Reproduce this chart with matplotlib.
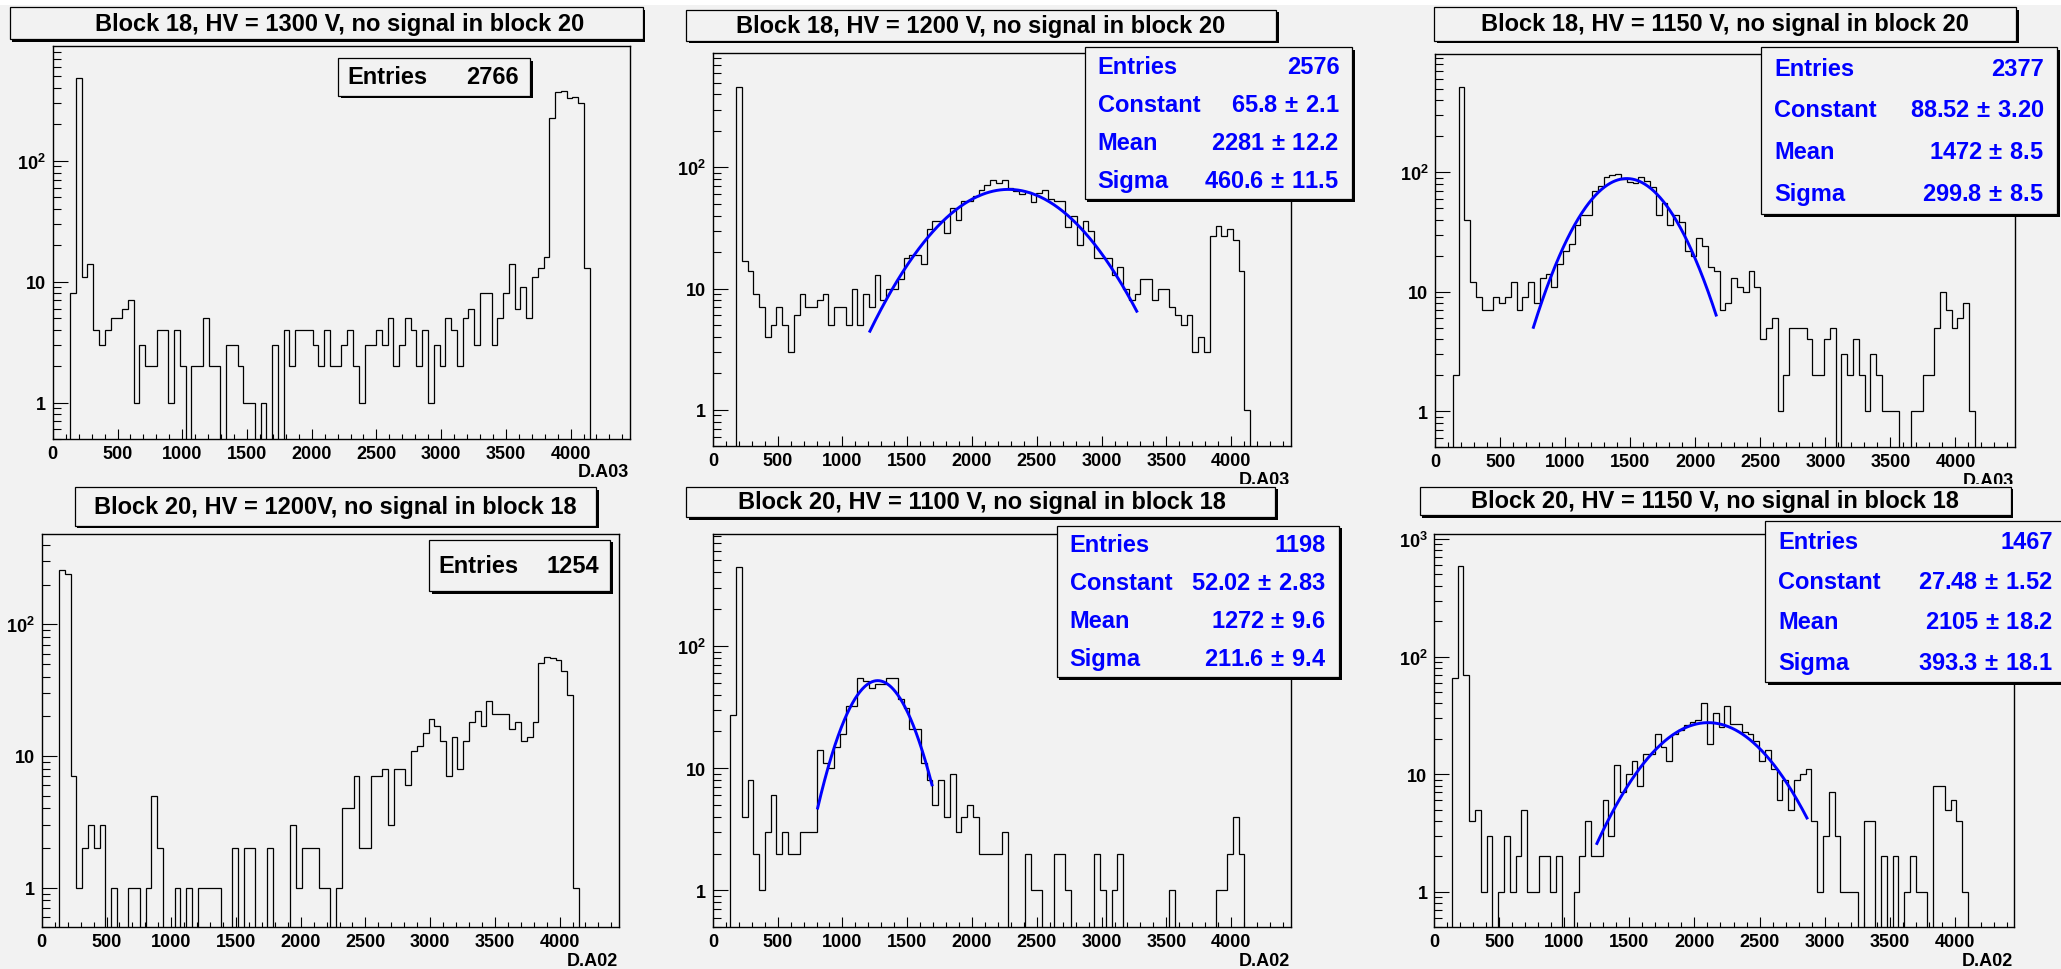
import numpy as np
import matplotlib
matplotlib.use("Agg")
import matplotlib.pyplot as plt
from matplotlib.patches import Rectangle
from matplotlib.transforms import Affine2D, Bbox, TransformedBbox
from matplotlib.ticker import FixedLocator, FuncFormatter, LogLocator, MultipleLocator, NullFormatter

plt.rcParams['font.family'] = ['Liberation Sans', 'DejaVu Sans']
plt.rcParams['font.weight'] = 'bold'
plt.rcParams['mathtext.fontset'] = 'custom'
plt.rcParams['mathtext.rm'] = 'Liberation Sans'
plt.rcParams['mathtext.it'] = 'Liberation Sans'
plt.rcParams['mathtext.bf'] = 'Liberation Sans:bold'

W, H = 2061, 970
BG = '#f2f2f2'
BLUE = '#0000ff'

# binning of all histograms (100 bins)
x_lo, x_hi, n_bins = 0, 4460, 100

titles = ["Block 18, HV = 1300 V, no signal in block 20",
          "Block 18, HV = 1200 V, no signal in block 20",
          "Block 18, HV = 1150 V, no signal in block 20",
          "Block 20, HV = 1200V, no signal in block 18",
          "Block 20, HV = 1100 V, no signal in block 18",
          "Block 20, HV = 1150 V, no signal in block 18"]
xvars = ["D.A03", "D.A03", "D.A03", "D.A02", "D.A02", "D.A02"]
entries = [2766, 2576, 2377, 1254, 1198, 1467]
y_max = [895, 873, 975, 485, 823, 1104]

# bin contents
b18_1300 = [0, 0, 0, 8, 480, 11, 14, 4, 3, 4,
            5, 5, 6, 7, 1, 3, 2, 2, 4, 4,
            1, 4, 2, 0, 2, 2, 5, 2, 2, 0,
            3, 3, 2, 1, 1, 0, 1, 0, 3, 0,
            4, 2, 4, 4, 4, 3, 2, 4, 2, 2,
            3, 4, 2, 1, 3, 3, 4, 3, 5, 2,
            3, 5, 4, 2, 4, 1, 3, 2, 5, 4,
            2, 5, 6, 3, 8, 8, 3, 5, 8, 14,
            6, 9, 5, 11, 13, 16, 228, 372, 375, 328,
            340, 303, 13, 0, 0, 0, 0, 0, 0, 0]
b18_1200 = [0, 0, 0, 0, 463, 17, 14, 9, 7, 4,
            5, 7, 5, 3, 6, 9, 7, 7, 8, 9,
            5, 7, 7, 5, 10, 5, 9, 7, 13, 8,
            10, 10, 12, 18, 19, 19, 16, 31, 36, 36,
            29, 46, 37, 53, 53, 58, 65, 72, 78, 75,
            78, 68, 64, 60, 63, 52, 61, 65, 55, 53,
            53, 32, 40, 23, 36, 30, 18, 18, 18, 13,
            15, 10, 8, 9, 12, 12, 8, 10, 10, 7,
            6, 5, 6, 3, 4, 3, 27, 33, 27, 31,
            25, 14, 1, 0, 0, 0, 0, 0, 0, 0]
b18_1150 = [0, 0, 0, 2, 520, 40, 12, 9, 7, 7,
            9, 8, 9, 12, 7, 9, 12, 8, 13, 14,
            11, 17, 22, 25, 36, 44, 44, 70, 77, 92,
            94, 96, 88, 83, 81, 92, 85, 75, 44, 55,
            36, 44, 38, 22, 20, 28, 24, 16, 15, 7,
            8, 13, 11, 10, 15, 11, 4, 5, 6, 1,
            2, 5, 5, 5, 4, 2, 2, 4, 5, 0,
            3, 2, 4, 2, 1, 3, 2, 1, 1, 1,
            0, 0, 1, 1, 2, 2, 5, 10, 7, 5,
            6, 8, 1, 0, 0, 0, 0, 0, 0, 0]
b20_1200 = [0, 0, 0, 258, 240, 7, 1, 2, 3, 2,
            3, 0, 1, 0, 0, 1, 1, 0, 1, 5,
            2, 0, 0, 1, 0, 1, 0, 1, 1, 1,
            1, 0, 0, 2, 0, 2, 2, 0, 0, 2,
            0, 0, 0, 3, 1, 2, 2, 2, 1, 1,
            0, 1, 4, 4, 7, 2, 2, 7, 7, 8,
            3, 8, 8, 6, 11, 12, 15, 19, 17, 13,
            7, 14, 8, 13, 18, 22, 17, 26, 21, 21,
            21, 16, 18, 13, 14, 18, 51, 56, 55, 54,
            44, 29, 1, 0, 0, 0, 0, 0, 0, 0]
b20_1100 = [0, 0, 0, 27, 444, 4, 8, 2, 1, 3,
            6, 2, 3, 2, 2, 3, 3, 3, 14, 11,
            10, 15, 19, 32, 32, 55, 52, 45, 49, 49,
            55, 55, 37, 31, 21, 21, 11, 8, 5, 8,
            4, 9, 3, 4, 5, 4, 2, 2, 2, 2,
            3, 0, 0, 0, 2, 1, 1, 0, 0, 2,
            2, 1, 0, 0, 0, 0, 2, 1, 0, 1,
            2, 0, 0, 0, 0, 0, 0, 0, 0, 1,
            0, 0, 0, 0, 0, 0, 0, 1, 1, 2,
            4, 2, 0, 0, 0, 0, 0, 0, 0, 0]
b20_1150 = [0, 0, 0, 66, 593, 70, 4, 5, 1, 3,
            0, 1, 3, 1, 2, 5, 1, 1, 2, 2,
            1, 2, 0, 0, 1, 2, 4, 2, 2, 6,
            3, 12, 7, 10, 13, 8, 15, 15, 22, 17,
            13, 22, 24, 26, 28, 29, 40, 18, 33, 25,
            38, 27, 27, 23, 22, 19, 13, 16, 11, 6,
            9, 5, 9, 10, 11, 4, 1, 3, 7, 3,
            1, 1, 1, 0, 4, 4, 0, 2, 0, 2,
            0, 1, 2, 1, 1, 0, 8, 8, 5, 6,
            4, 1, 0, 0, 0, 0, 0, 0, 0, 0]
counts = [b18_1300, b18_1200, b18_1150, b20_1200, b20_1100, b20_1150]

# gaussian fits (panels 1, 2, 4, 5)
fit_panels = [1, 2, 4, 5]
fit_const = [65.8, 88.52, 52.02, 27.48]
fit_const_err = [2.1, 3.20, 2.83, 1.52]
fit_const_dec = [1, 2, 2, 2]
fit_mean = [2281, 1472, 1272, 2105]
fit_mean_err = [12.2, 8.5, 9.6, 18.2]
fit_sigma = [460.6, 299.8, 211.6, 393.3]
fit_sigma_err = [11.5, 8.5, 9.4, 18.1]
fit_lo = [1207, 751, 806, 1245]
fit_hi = [3277, 2163, 1694, 2870]

edges = np.linspace(x_lo, x_hi, n_bins + 1)

fig = plt.figure(figsize=(W / 100, H / 100), dpi=100, facecolor=BG)
# pixel coordinates, y measured from the top
pix = Affine2D().scale(1 / W, -1 / H).translate(0, 1) + fig.transFigure

# thin white canvas strip along the top edge
fig.add_artist(Rectangle((0, 0), W, 6, transform=pix, facecolor='white',
                         edgecolor='none', zorder=0.5))

# layout in pixels
frames = [(52.8, 46.7, 630.1, 440), (712.9, 54.3, 1290.7, 447.3), (1435.3, 55, 2015.3, 448.3),
          (41.8, 535, 619.1, 928.3), (712.9, 535, 1290.7, 928.3), (1434.4, 535, 2014.4, 928.3)]
title_boxes = [(9.7, 8.3, 642.5, 40), (686, 10.7, 1276, 41.7), (1434.4, 8.3, 2016, 41.7),
               (74.8, 488.3, 596.3, 526.7), (686, 487.7, 1275.3, 518.3), (1419.9, 487.7, 2010.9, 516)]
title_cx = [340, 981, 1725, 335.5, 982, 1715]
stat_boxes = {0: (338, 59.3, 530, 96.7), 3: (429, 540.7, 610.3, 592.3),
              1: (1084.7, 48.3, 1352.3, 200), 2: (1761, 48.3, 2057, 215),
              4: (1056.6, 526.7, 1339, 678.3), 5: (1765, 522.3, 2066, 683.3)}


def pave(x0, y0, x1, y1, shadow=2.5):
    fig.add_artist(Rectangle((x0 + shadow, y0 + shadow), x1 - x0, y1 - y0, transform=pix,
                             facecolor='black', edgecolor='none', zorder=1.0))
    fig.add_artist(Rectangle((x0, y0), x1 - x0, y1 - y0, transform=pix,
                             facecolor=BG, edgecolor='black', lw=0.9, zorder=1.1))


def ylabel_fmt(v, pos):
    labels = {1: '1', 10: '10', 100: r'$\mathbf{10^{2}}$', 1000: r'$\mathbf{10^{3}}$'}
    return labels.get(int(round(v)), '')


top_clip = TransformedBbox(Bbox.from_extents(0, 1 - 485 / H, 1, 1), fig.transFigure)

for k in range(6):
    x0, y0, x1, y1 = frames[k]
    ax = fig.add_axes([x0 / W, 1 - y1 / H, (x1 - x0) / W, (y1 - y0) / H])
    ax.set_facecolor(BG)
    ax.set_yscale('log')
    vals = np.asarray(counts[k], float)
    ax.stairs(np.where(vals > 0, vals, 1e-3), edges, baseline=1e-3, color='black', lw=0.9)

    if k in fit_panels:
        i = fit_panels.index(k)
        xs = np.linspace(fit_lo[i], fit_hi[i], 300)
        ys = fit_const[i] * np.exp(-0.5 * ((xs - fit_mean[i]) / fit_sigma[i]) ** 2)
        ax.plot(xs, ys, color=BLUE, lw=2.1, solid_capstyle='butt')

    ax.set_xlim(x_lo, x_hi)
    ax.set_ylim(0.5, y_max[k])
    ax.xaxis.set_major_locator(MultipleLocator(500))
    ax.xaxis.set_minor_locator(MultipleLocator(100))
    ax.yaxis.set_major_locator(FixedLocator([1, 10, 100, 1000]))
    ax.yaxis.set_major_formatter(FuncFormatter(ylabel_fmt))
    ax.yaxis.set_minor_locator(LogLocator(base=10, subs=np.arange(2, 10), numticks=20))
    ax.yaxis.set_minor_formatter(NullFormatter())
    ax.tick_params(axis='both', which='both', direction='in', top=False, right=False,
                   width=0.8, colors='black', labelsize=13)
    ax.tick_params(axis='x', which='major', length=7.2, pad=4)
    ax.tick_params(axis='x', which='minor', length=3.6)
    ax.tick_params(axis='y', which='major', length=10.8, pad=5)
    ax.tick_params(axis='y', which='minor', length=6)
    for s in ax.spines.values():
        s.set_linewidth(1.0)
        s.set_color('black')

    # x variable name under the axis
    t = fig.text(x1 - 1, y1 + 33, xvars[k], transform=pix, ha='right', va='center',
                 fontsize=13, color='black')
    if k < 3:
        t.set_clip_box(top_clip)
        t.set_clip_on(True)

    # title pave
    tx0, ty0, tx1, ty1 = title_boxes[k]
    pave(tx0, ty0, tx1, ty1)
    fig.text(title_cx[k], (ty0 + ty1) / 2, titles[k], transform=pix, ha='center',
             va='center', fontsize=17, color='black', zorder=3)

    # statistics pave
    sx0, sy0, sx1, sy1 = stat_boxes[k]
    pave(sx0, sy0, sx1, sy1)
    if k in fit_panels:
        i = fit_panels.index(k)
        d = fit_const_dec[i]
        names = ["Entries", "Constant", "Mean", "Sigma"]
        values = [f"{entries[k]}",
                  f"{fit_const[i]:.{d}f}$\\,\\pm\\,${fit_const_err[i]:.{d}f}",
                  f"{fit_mean[i]:.0f}$\\,\\pm\\,${fit_mean_err[i]:.1f}",
                  f"{fit_sigma[i]:.1f}$\\,\\pm\\,${fit_sigma_err[i]:.1f}"]
        step = (sy1 - sy0) / 4
        for j in range(4):
            yy = sy0 + step * (j + 0.5)
            fig.text(sx0 + 13, yy, names[j], transform=pix, ha='left', va='center',
                     fontsize=17, color=BLUE, zorder=3)
            fig.text(sx1 - 13, yy, values[j], transform=pix, ha='right', va='center',
                     fontsize=17, color=BLUE, zorder=3)
    else:
        yy = (sy0 + sy1) / 2
        fig.text(sx0 + 9, yy, "Entries", transform=pix, ha='left', va='center',
                 fontsize=17, color='black', zorder=3)
        fig.text(sx1 - 11, yy, f"{entries[k]}", transform=pix, ha='right', va='center',
                 fontsize=17, color='black', zorder=3)

fig.savefig('out.png', dpi=100, facecolor=BG)
